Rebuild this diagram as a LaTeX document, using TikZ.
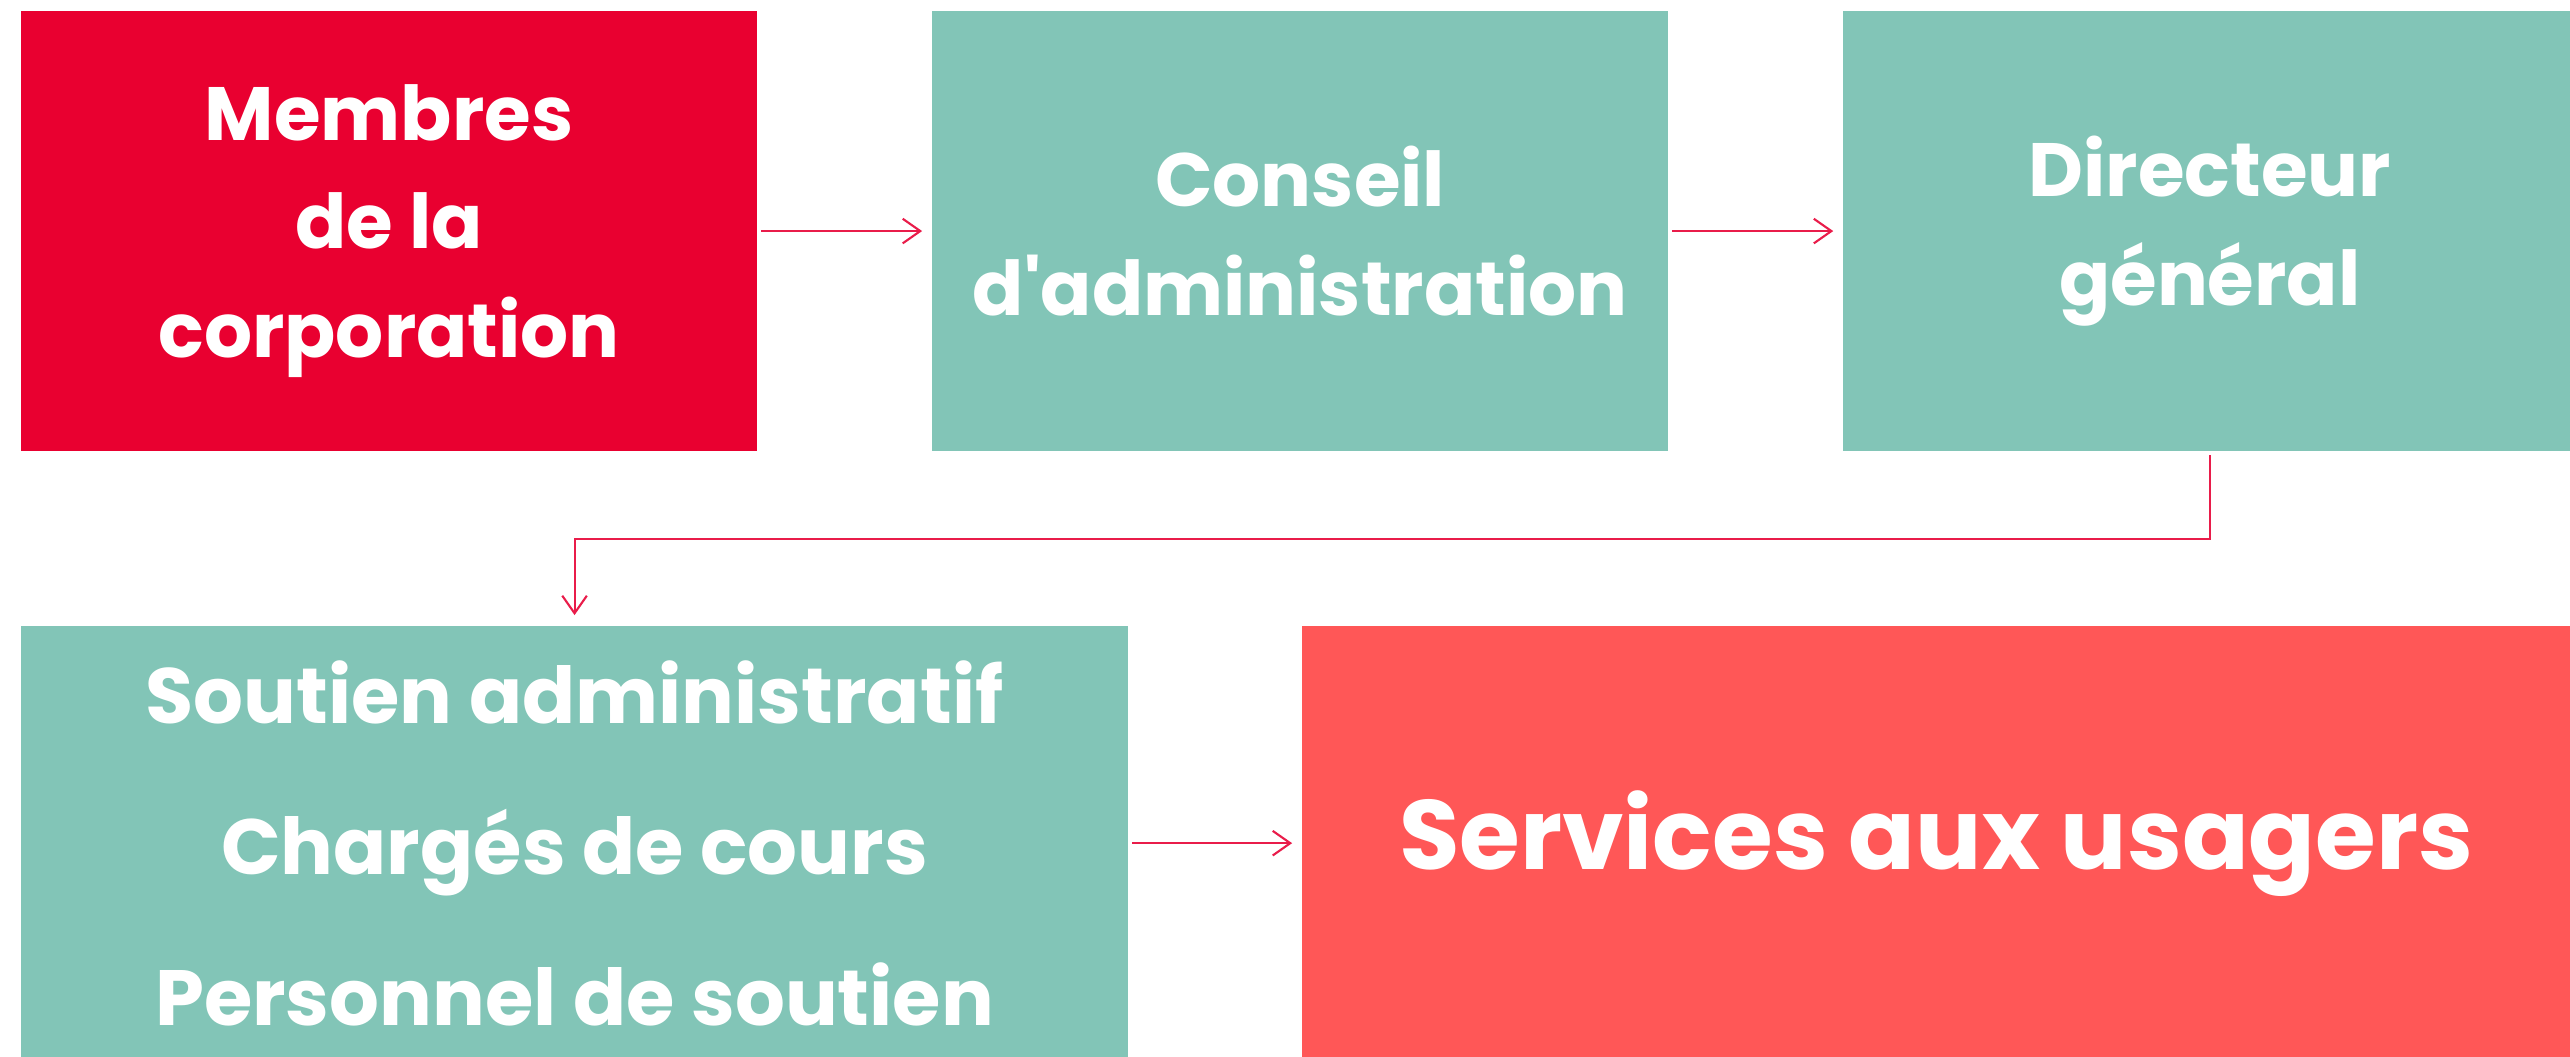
\documentclass[tikz,border=0pt]{standalone}
\usepackage{fontspec}
\setmainfont{Poppins}
\usepackage{tikz}
\usetikzlibrary{positioning, arrows.meta}

\definecolor{rouge}{HTML}{E90030}
\definecolor{vert}{HTML}{82C5B7}
\definecolor{corail}{HTML}{FF5757}
\definecolor{fleche}{HTML}{E91C4A}

\begin{document}
\begin{tikzpicture}[->,>={Straight Barb[length=5pt,width=7pt]},auto,node distance=1.73cm,
                    line width=0.6pt,draw=fleche]
\tikzstyle{box}=[rectangle,draw=none,text=white,align=center,inner sep=0pt,
                 font=\bfseries\fontsize{21.5pt}{31pt}\selectfont]
\useasboundingbox (0,0) rectangle (25.70,-10.57);

        \node[box,fill=rouge,minimum width=7.36cm,minimum height=4.40cm,anchor=north west]  (m) at (0.20,-0.10) {Membres\\de la\\corporation};
        \node[box,fill=vert,minimum width=7.36cm,minimum height=4.40cm]     (c) [right=of m]     {Conseil\\d\textquotesingle administration};
        \node[box,fill=vert,minimum width=7.33cm,minimum height=4.40cm]     (d) [right=of c]     {Directeur\\général};

        \node[box,fill=vert,minimum width=11.07cm,minimum height=4.34cm,font=\bfseries\fontsize{22.3pt}{43pt}\selectfont]
              (s) [below=of m.south west,anchor=north west]   {Soutien administratif\\Chargés de cours\\Personnel de soutien};
        \node[box,fill=corail,minimum width=12.68cm,minimum height=4.34cm,font=\bfseries\fontsize{28pt}{35pt}\selectfont]
              (u) [right=1.72cm of s]  {Services aux usagers};

        \path[->,shorten <=0.03cm,shorten >=0.09cm]
        (m)   edge node {}          (c)
        (c)   edge node {}          (d)
        (s)   edge node {}          (u)
        ; %end path

        \draw[->,shorten <=0.03cm,shorten >=0.10cm] (d.south) -- ++(0,-0.87) -| (s.north);

\end{tikzpicture}
\end{document}
